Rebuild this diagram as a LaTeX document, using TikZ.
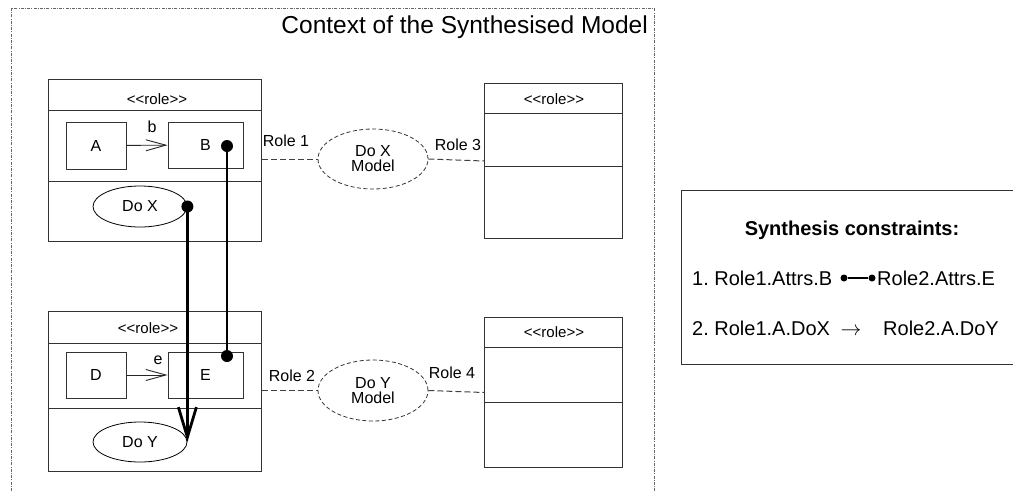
\documentclass[tikz,border=0pt]{standalone}
\usepackage{fontspec}
\setmainfont{Liberation Sans}
\usetikzlibrary{arrows.meta,shapes.geometric}
\frenchspacing

\tikzset{
  fs/.style={font=\fontsize{#1}{#1}\selectfont},
  rolebox/.style={draw=black!80, line width=1pt, rectangle, inner sep=0pt, anchor=north west},
  partline/.style={draw=black!80, line width=1pt},
  classbox/.style={draw=black!80, line width=0.9pt, rectangle, inner sep=0pt, fs=16},
  usecase/.style={draw=black, line width=0.8pt, ellipse, inner sep=0pt, fs=16},
  modelcase/.style={draw=black!80, line width=0.8pt, dash pattern=on 4pt off 2.5pt, ellipse, inner sep=0pt, fs=16, align=center},
  assoc/.style={draw=black!75, line width=1pt, dash pattern=on 6pt off 3pt},
  nav/.style={draw=black!85, line width=0.9pt, -{Straight Barb[length=20pt,width=11pt,line width=0.9pt]}},
  bigdot/.style={circle, fill=black, inner sep=0pt, minimum size=12pt},
  tiedot/.style={circle, fill=black, inner sep=0pt, minimum size=7pt},
  link/.style={draw=black, line width=2.8pt},
  flow/.style={draw=black, line width=2.8pt, -{Straight Barb[length=30pt,width=18pt,line width=2.8pt]}},
  stereo/.style={fs=15, anchor=base, inner sep=0pt},
  rolelbl/.style={fs=16, inner sep=0pt},
  ctx/.style={draw=black!60, line width=1pt, dash pattern=on 3pt off 1.2pt on 1pt off 1.2pt},
}

\begin{document}
\begin{tikzpicture}[x=1pt, y=-1pt]
\useasboundingbox (0,0) rectangle (1013,491);

% context frame (open at the bottom)
\draw[ctx] (11,491) -- (11,8) -- (654,8) -- (654,491);
\node[fs=24.5, anchor=base east, inner sep=0pt] (title) at (648,33) {Context of the Synthesised Model};

% ---- role 1 (top left)
\node[rolebox, minimum width=213pt, minimum height=162pt] (r1) at (48,79) {};
\draw[partline] (48,110) -- (261,110);
\draw[partline] (48,181) -- (261,181);
\node[stereo] (r1h) at (157,104) {<{}<role>{}>};
\node[classbox, minimum width=60pt, minimum height=47pt] (A) at (96,145.5) {A};
\node[classbox, minimum width=75pt, minimum height=46pt] (B) at (205.5,145) {B};
\draw[nav] (A) -- (B);
\node[fs=16, inner sep=0pt] (lb) at (152,127) {b};
\node[usecase, minimum width=94pt, minimum height=41pt] (dox) at (140,206.5) {Do X};

% ---- role 2 (bottom left)
\node[rolebox, minimum width=213pt, minimum height=160pt] (r2) at (48,311) {};
\draw[partline] (48,343) -- (261,343);
\draw[partline] (48,408) -- (261,408);
\node[stereo] (r2h) at (148,333) {<{}<role>{}>};
\node[classbox, minimum width=60pt, minimum height=46pt] (D) at (96,375) {D};
\node[classbox, minimum width=75pt, minimum height=46pt] (E) at (205.5,375) {E};
\draw[nav] (D) -- (E);
\node[fs=16, inner sep=0pt] (le) at (158,360) {e};
\node[usecase, minimum width=94pt, minimum height=40pt] (doy) at (140,442) {Do Y};

% ---- role 3 and role 4 (right)
\node[rolebox, minimum width=138pt, minimum height=155pt] (r3) at (484,83) {};
\draw[partline] (484,113) -- (622,113);
\draw[partline] (484,166) -- (622,166);
\node[stereo] (r3h) at (554,104) {<{}<role>{}>};

\node[rolebox, minimum width=138pt, minimum height=150pt] (r4) at (484,317) {};
\draw[partline] (484,347) -- (622,347);
\draw[partline] (484,402) -- (622,402);
\node[stereo] (r4h) at (554,337) {<{}<role>{}>};

% ---- collaborations
\node[modelcase, minimum width=110pt, minimum height=60pt] (dxm) at (373,159) {Do X\\[-1pt]Model};
\node[modelcase, minimum width=110pt, minimum height=61pt] (dym) at (373,390.5) {Do Y\\[-1pt]Model};

\draw[assoc] (r1.east |- dxm.west) -- (dxm.west);
\draw[assoc] (dxm.east) -- (r3.west);
\draw[assoc] (r2.east |- dym.west) -- (dym.west);
\draw[assoc] (dym.east) -- (r4.west);

\node[rolelbl] (l1) at (286,141) {Role 1};
\node[rolelbl] (l3) at (458,145) {Role 3};
\node[rolelbl] (l2) at (292,376) {Role 2};
\node[rolelbl] (l4) at (452,373) {Role 4};

% ---- synthesis links
\node[bigdot] (bd) at (227,146) {};
\node[bigdot] (ed) at (227,356) {};
\node[bigdot] (xd) at (dox.east) {};
\draw[link] (bd.center) -- (ed.center);
\draw[flow] (xd.center) -- (doy.east);

% ---- constraints panel
\draw[draw=black!80, line width=1pt] (1014,190) -- (681,190) -- (681,364) -- (1014,364);
\node[font=\bfseries\fontsize{20}{20}\selectfont, anchor=base, inner sep=0pt] (ch) at (852,235) {Synthesis constraints:};
\node[fs=20, anchor=base west, inner sep=0pt] (c1a) at (692,285) {1. Role1.Attrs.B};
\node[tiedot] (t1) at (844,278) {};
\node[tiedot] (t2) at (872,278) {};
\draw[line width=1.2pt] (t1) -- (t2);
\node[fs=20, anchor=base west, inner sep=0pt] (c1b) at (877,285) {Role2.Attrs.E};
\node[fs=20, anchor=base west, inner sep=0pt] (c2a) at (692,335) {2. Role1.A.DoX};
\node[fs=20, anchor=base west, inner sep=0pt] (c2b) at (883,335) {Role2.A.DoY};
\node[fs=20, anchor=base, inner sep=0pt] (c2arr) at (851,335) {$\rightarrow$};
\end{tikzpicture}
\end{document}
